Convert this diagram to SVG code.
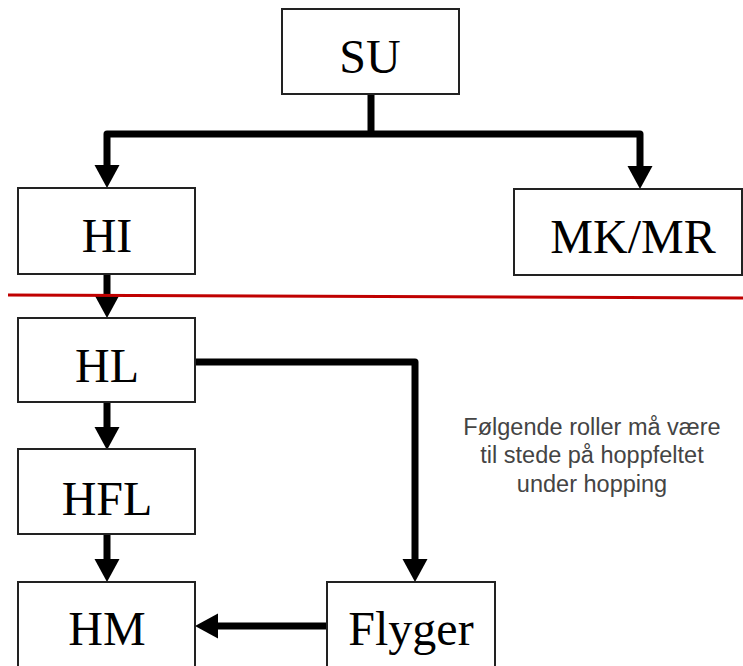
<svg xmlns="http://www.w3.org/2000/svg" width="743" height="666" viewBox="0 0 743 666">
<style>
.box{fill:#fff;stroke:#222;stroke-width:2}
.lbl{font-family:"Liberation Serif","Times New Roman",serif;font-size:48px;fill:#000;text-anchor:middle}
.con{fill:none;stroke:#000;stroke-width:7;stroke-linejoin:round}
.note{font-family:"Liberation Sans",Arial,sans-serif;font-size:23.5px;fill:#444;text-anchor:middle}
</style>
<defs>
<marker id="ah" markerUnits="userSpaceOnUse" markerWidth="24" markerHeight="26" refX="0" refY="12.5" orient="auto" viewBox="0 0 24 26">
<path d="M0,0 L23,12.5 L0,25 z" fill="#000"/>
</marker>
</defs>
<rect width="743" height="666" fill="#fff"/>
<g id="connectors">
<line class="con" x1="371" y1="94" x2="371" y2="134"/>
<path class="con" d="M371,134 H107 V165" marker-end="url(#ah)"/>
<path class="con" d="M371,134 H640 V166" marker-end="url(#ah)"/>
<path class="con" d="M107,274 V295" marker-end="url(#ah)"/>
<path class="con" d="M107,402 V427" marker-end="url(#ah)"/>
<path class="con" d="M107,534 V559" marker-end="url(#ah)"/>
<path class="con" d="M195,362 H415 V559" marker-end="url(#ah)"/>
<path class="con" d="M327,626 H218" marker-end="url(#ah)"/>
</g>
<line id="divider" x1="8" y1="295" x2="743" y2="298" stroke="#c00000" stroke-width="3"/>
<g id="SU"><rect class="box" x="282" y="9" width="177" height="85"/><text class="lbl" x="370" y="73">SU</text></g>
<g id="HI"><rect class="box" x="18" y="188" width="177" height="86"/><text class="lbl" x="107" y="252">HI</text></g>
<g id="MKMR"><rect class="box" x="514" y="189" width="228" height="86"/><text class="lbl" x="633" y="253">MK/MR</text></g>
<g id="HL"><rect class="box" x="18" y="318" width="177" height="84"/><text class="lbl" x="107" y="382">HL</text></g>
<g id="HFL"><rect class="box" x="18" y="449" width="177" height="85"/><text class="lbl" x="107" y="515">HFL</text></g>
<g id="HM"><rect class="box" x="18" y="582" width="177" height="90"/><text class="lbl" x="107" y="645">HM</text></g>
<g id="Flyger"><rect class="box" x="327" y="582" width="168" height="90"/><text class="lbl" x="411" y="645">Flyger</text></g>
<g id="note">
<text class="note" x="592" y="435">Følgende roller må være</text>
<text class="note" x="592" y="463">til stede på hoppfeltet</text>
<text class="note" x="592" y="492">under hopping</text>
</g>
</svg>
